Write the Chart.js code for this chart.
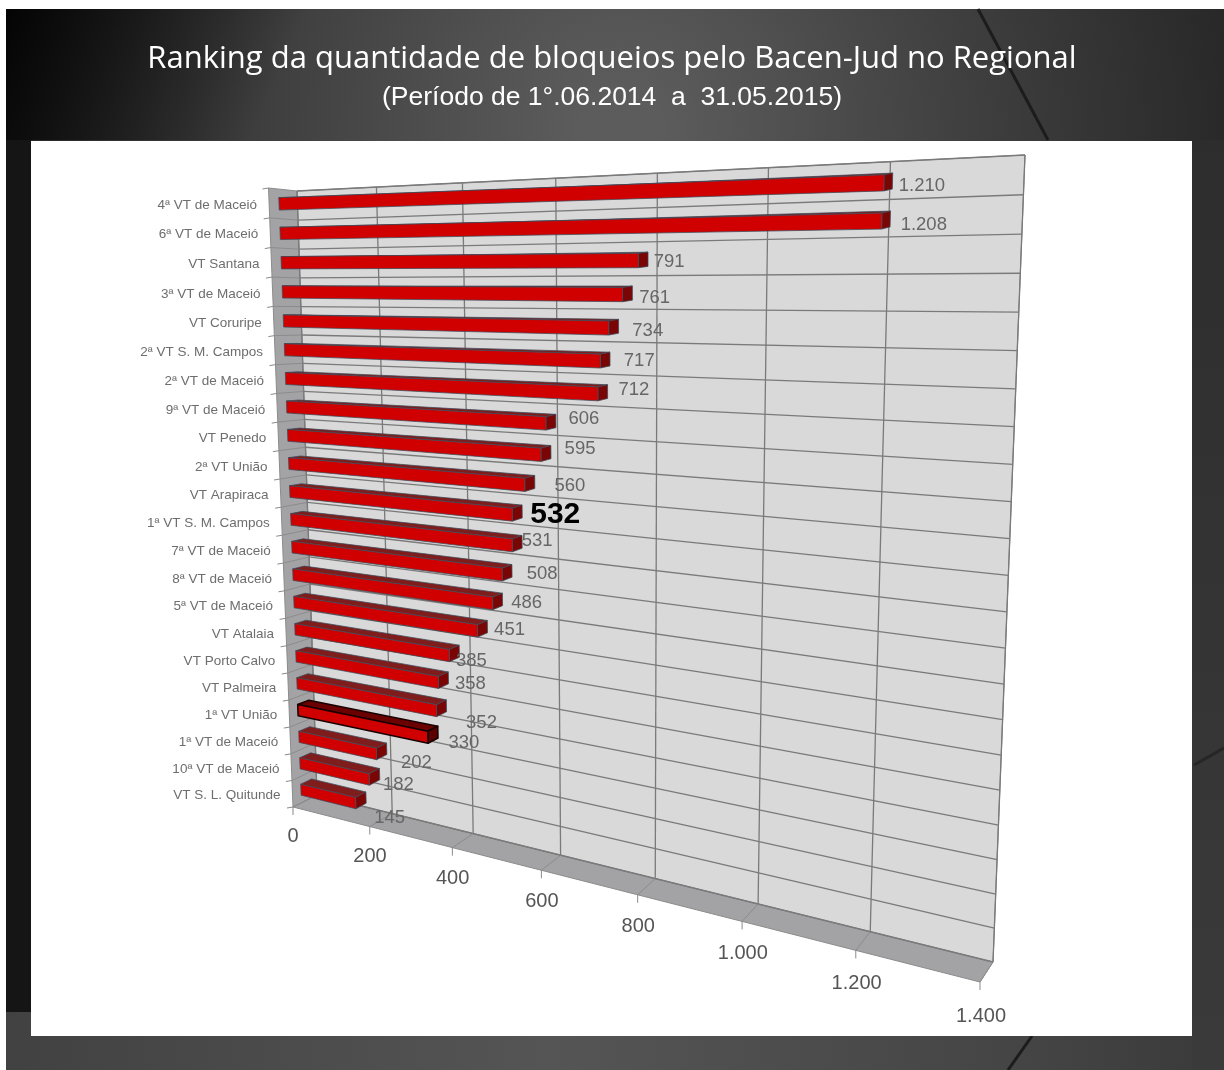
<!DOCTYPE html>
<html lang="pt">
<head>
<meta charset="utf-8">
<style>
html,body{margin:0;padding:0;background:#fff;}
canvas{display:block;filter:blur(0.45px);}
</style>
<script src="https://cdn.jsdelivr.net/npm/chart.js@4"></script>
</head>
<body>
<canvas id="c" width="1224" height="1070"></canvas>
<script>
const titleText = "Ranking da quantidade de bloqueios pelo Bacen-Jud no Regional";
const subtitleText = "(Período de 1°.06.2014  a  31.05.2015)";
const categories = ["4ª VT de Maceió","6ª VT de Maceió","VT Santana","3ª VT de Maceió","VT Coruripe","2ª VT S. M. Campos","2ª VT de Maceió","9ª VT de Maceió","VT Penedo","2ª VT União","VT Arapiraca","1ª VT S. M. Campos","7ª VT de Maceió","8ª VT de Maceió","5ª VT de Maceió","VT Atalaia","VT Porto Calvo","VT Palmeira","1ª VT União","1ª VT de Maceió","10ª VT de Maceió","VT S. L. Quitunde"];
const values = [1210,1208,791,761,734,717,712,606,595,560,532,531,508,486,451,385,358,352,330,202,182,145];
const axisMax = 1400;
const axisStep = 200;
const highlightedValue = 532;
const selectedBar = "1ª VT União";

/* placement of the label beside each bar end, relative to the projected bar end */
const labelNudge = [[6,-5],[10,-4],[-1,-7],[0,-5],[7,-5],[7,-8],[4,-12],[6,-12],[7,-14],[13,-7],[11,-8],[-7,-12],[8,-9],[2,-8],[0,-9],[-10,-3],[0,-7],[13,4],[4,-2],[8,1],[-3,-3],[2,7]];

/* perspective box: back wall and front plane corners (TL, TR, BR, BL) */
const WALL  = [[297,191],[1025,155],[993,962],[317,795]];
const FRONT = [[268.5,188],[1007,160],[980,982],[293,807]];
const FACE_T = 0.35, BACK_T = 0.8;

function quad(c){
  const [x0,y0]=c[0],[x1,y1]=c[1],[x2,y2]=c[2],[x3,y3]=c[3];
  const dx1=x1-x2,dx2=x3-x2,sx=x0-x1+x2-x3,dy1=y1-y2,dy2=y3-y2,sy=y0-y1+y2-y3;
  const den=dx1*dy2-dx2*dy1;
  const g=(sx*dy2-dx2*sy)/den,h=(dx1*sy-sx*dy1)/den;
  const a=x1-x0+g*x1,b=x3-x0+h*x3,d=y1-y0+g*y1,e=y3-y0+h*y3;
  return (u,v)=>{const w=g*u+h*v+1;return [(a*u+b*v+x0)/w,(d*u+e*v+y0)/w];};
}
const wallH=quad(WALL), frontH=quad(FRONT);
/* t: 0 = front plane, 1 = back wall */
function proj(u,v,t){const f=frontH(u,v),w=wallH(u,v);return [f[0]+(w[0]-f[0])*t,f[1]+(w[1]-f[1])*t];}
function poly(ctx,pts,fill,stroke,lw){
  ctx.beginPath();pts.forEach((p,i)=>i?ctx.lineTo(p[0],p[1]):ctx.moveTo(p[0],p[1]));ctx.closePath();
  if(fill){ctx.fillStyle=fill;ctx.fill();}
  if(stroke){ctx.strokeStyle=stroke;ctx.lineWidth=lw||1;ctx.stroke();}
}
function seg(ctx,a,b,col,lw){ctx.beginPath();ctx.moveTo(a[0],a[1]);ctx.lineTo(b[0],b[1]);ctx.strokeStyle=col;ctx.lineWidth=lw||1;ctx.stroke();}
const fmt = n => String(n).replace(/\B(?=(\d{3})+$)/g,".");

const backdrop = {
  id:"backdrop",
  beforeDraw(chart){
    const ctx=chart.ctx;
    ctx.save();
    ctx.fillStyle="#fff";ctx.fillRect(0,0,1224,1070);
    const g=ctx.createRadialGradient(620,130,40,620,130,640);
    g.addColorStop(0,"#5c5c5c");g.addColorStop(0.5,"#404040");g.addColorStop(1,"#262626");
    ctx.fillStyle=g;ctx.fillRect(6,9,1218,1061);
    const l=ctx.createLinearGradient(6,9,260,120);
    l.addColorStop(0,"rgba(0,0,0,.9)");l.addColorStop(1,"rgba(0,0,0,0)");
    ctx.fillStyle=l;ctx.fillRect(6,9,300,131);
    ctx.fillStyle="#151515";ctx.fillRect(6,140,25,872);
    const b=ctx.createLinearGradient(0,1036,1224,1036);
    b.addColorStop(0,"#414141");b.addColorStop(.45,"#555");b.addColorStop(.85,"#444");b.addColorStop(1,"#3a3a3a");
    ctx.fillStyle=b;ctx.fillRect(6,1012,1218,58);
    const r=ctx.createLinearGradient(0,140,0,1036);
    r.addColorStop(0,"#2d2d2d");r.addColorStop(1,"#3a3a3a");
    ctx.fillStyle=r;ctx.fillRect(1192,140,32,930);
    seg(ctx,[978,9],[1048,140],"#1c1c1c",3);
    seg(ctx,[1032,1036],[1008,1070],"#1c1c1c",3);
    seg(ctx,[1194,765],[1224,748],"#262626",3);
    ctx.fillStyle="#fff";ctx.fillRect(31,141,1161,895);
    ctx.restore();
  }
};

const box3d = {
  id:"box3d",
  beforeDatasetsDraw(chart){
    const ctx=chart.ctx, xs=chart.scales.x, ys=chart.scales.y, ca=chart.chartArea;
    const U=px=>(px-ca.left)/(ca.right-ca.left), V=py=>(py-ca.top)/(ca.bottom-ca.top);
    const n=categories.length, grid="#7a7a7a", tick="#8a8a8a";
    ctx.save();
    ctx.lineJoin="round";
    /* side wall, floor, back wall */
    poly(ctx,[FRONT[0],WALL[0],WALL[3],FRONT[3]],"#a3a3a6");
    poly(ctx,[WALL[3],WALL[2],FRONT[2],FRONT[3]],"#a3a3a6","#8c8c8c");
    poly(ctx,WALL,"#d9d9d9",grid);
    /* category boundaries */
    for(let i=0;i<=n;i++){
      const edge = i<n ? ys.getPixelForValue(i)-(ys.getPixelForValue(1)-ys.getPixelForValue(0))/2 : ca.bottom;
      const v=V(edge);
      seg(ctx,wallH(0,v),wallH(1,v),grid,1.3);
      seg(ctx,frontH(0,v),wallH(0,v),"#8c8c8c",1);
      const fp=frontH(0,v);
      seg(ctx,fp,[fp[0]-6,fp[1]+1],tick,1);
    }
    seg(ctx,WALL[0],WALL[3],"#8c8c8c",1);
    seg(ctx,FRONT[0],FRONT[3],"#8c8c8c",1);
    /* value gridlines, floor lines, tick marks and labels */
    ctx.textAlign="center";ctx.textBaseline="middle";
    xs.ticks.forEach(t=>{
      const u=U(xs.getPixelForValue(t.value));
      seg(ctx,wallH(u,0),wallH(u,1),grid,1.3);
      seg(ctx,wallH(u,1),frontH(u,1),"#8c8c8c",1);
      const p=frontH(u,1);
      seg(ctx,p,[p[0],p[1]+8],tick,1);
      ctx.fillStyle="#555";ctx.font="20px 'Liberation Sans'";
      ctx.fillText(fmt(t.value),p[0]+u,p[1]+29+u*5);
    });
    /* category labels */
    ctx.textAlign="right";
    categories.forEach((c,i)=>{
      const p=frontH(0,V(ys.getPixelForValue(i)));
      ctx.fillStyle="#6e6e6e";ctx.font="13.5px 'Liberation Sans'";
      ctx.fillText(c,p[0]-12,p[1]+2);
    });
    /* bars, from the library's elements */
    const meta=chart.getDatasetMeta(0);
    meta.data.forEach((el,i)=>{
      const r=el.getProps(["x","y","base","height"],true);
      const u0=U(r.base),u1=U(r.x),v0=V(r.y-r.height/2),v1=V(r.y+r.height/2);
      const selected=categories[i]===selectedBar;
      const edge=selected?"#1a0000":"rgba(60,75,90,.75)", lw=selected?1.6:1;
      const fTL=proj(u0,v0,FACE_T),fTR=proj(u1,v0,FACE_T),fBR=proj(u1,v1,FACE_T),fBL=proj(u0,v1,FACE_T);
      const bTL=proj(u0,v0,BACK_T),bTR=proj(u1,v0,BACK_T),bBR=proj(u1,v1,BACK_T);
      poly(ctx,[fTL,fTR,bTR,bTL],selected?"#6a0000":"#7f1c1c",edge,lw);
      poly(ctx,[fTR,bTR,bBR,fBR],selected?"#5a0000":"#7a0505",edge,lw);
      poly(ctx,[fTL,fTR,fBR,fBL],"#d00000",edge,lw);
    });
    /* value labels */
    ctx.textAlign="center";
    meta.data.forEach((el,i)=>{
      const r=el.getProps(["x","y"],true);
      const p=proj(U(r.x),V(r.y),FACE_T);
      const big=values[i]===highlightedValue;
      ctx.fillStyle=big?"#000":"#666";
      ctx.font=(big?"bold 30px":"18.5px")+" 'Liberation Sans'";
      ctx.fillText(fmt(values[i]),p[0]+32+labelNudge[i][0],p[1]+8+labelNudge[i][1]);
    });
    ctx.restore();
    return false;
  }
};

new Chart(document.getElementById("c"),{
  type:"bar",
  data:{labels:categories,datasets:[{data:values,backgroundColor:"#d00000",categoryPercentage:1,barPercentage:0.42}]},
  plugins:[backdrop,box3d],
  options:{
    indexAxis:"y",responsive:false,animation:false,
    layout:{padding:{left:60,right:60,top:0,bottom:60}},
    scales:{
      x:{display:false,min:0,max:axisMax,ticks:{stepSize:axisStep}},
      y:{display:false}
    },
    plugins:{
      legend:{display:false},tooltip:{enabled:false},
      title:{display:true,text:titleText,color:"#fff",font:{family:"'Open Sans'",size:31,weight:"normal"},padding:{top:41,bottom:3.5}},
      subtitle:{display:true,text:subtitleText,color:"#fff",font:{family:"'Liberation Sans'",size:26.5,weight:"normal"},padding:{top:0,bottom:30}}
    }
  }
});
</script>
</body>
</html>
